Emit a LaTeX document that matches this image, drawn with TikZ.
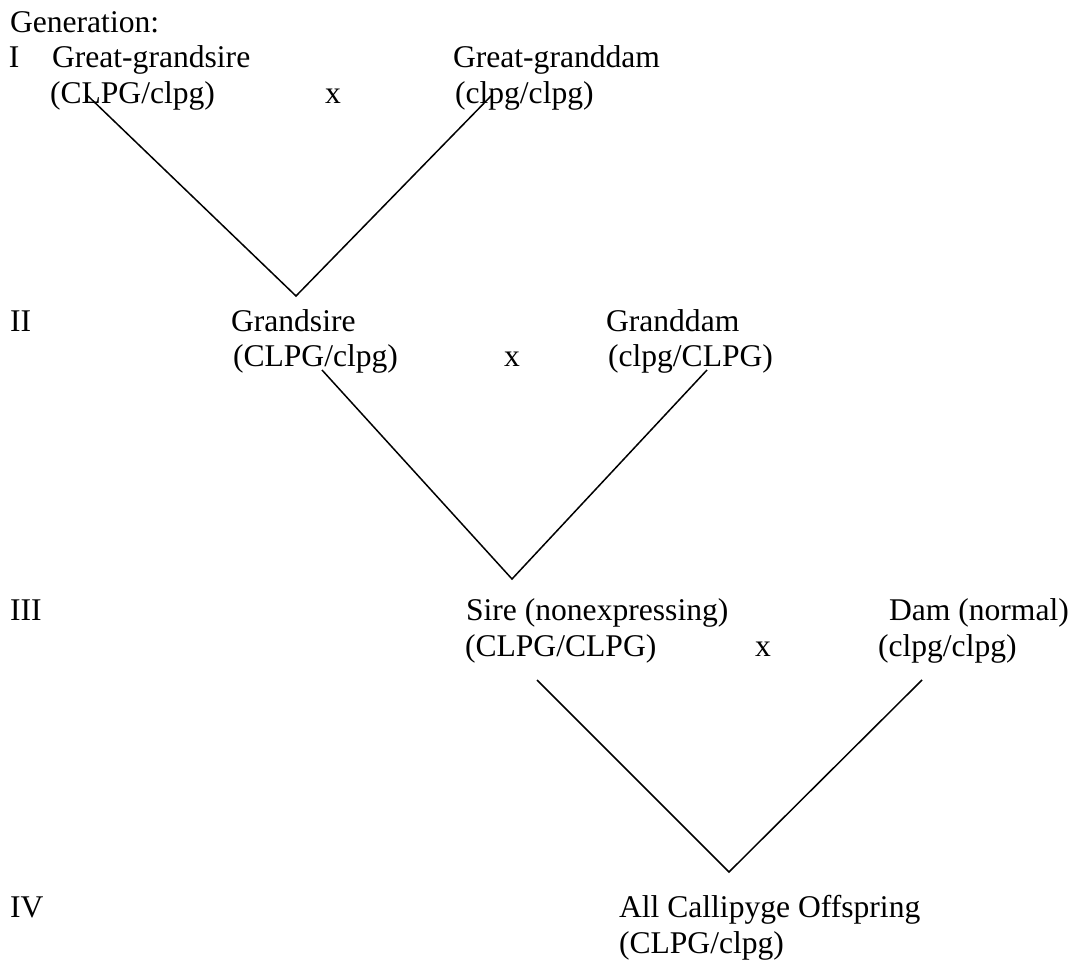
\documentclass[tikz,border=0pt]{standalone}
\usepackage{fontspec}
\setmainfont{Liberation Serif}
\begin{document}
\begin{tikzpicture}[x=1pt,y=-1pt,
  lbl/.style={anchor=base west,inner sep=0pt,outer sep=0pt,font=\fontsize{31.6}{36}\selectfont},
  link/.style={line width=1.5pt,black}]
\useasboundingbox (0,0) rectangle (1076,960);
\fill[white] (0,0) rectangle (1076,960);
% Row I
\node[lbl] (gen) at (10,33) {Generation:};
\node[lbl] (g1) at (9,68) {I};
\node[lbl] (ggs) at (52,68) {Great-grandsire};
\node[lbl] (ggsg) at (50,104) {(CLPG/clpg)};
\node[lbl] (x1) at (325,104) {x};
\node[lbl] (ggd) at (453,68) {Great-granddam};
\node[lbl] (ggdg) at (455,104) {(clpg/clpg)};
% Row II
\node[lbl] (g2) at (10,331) {II};
\node[lbl] (gs) at (231,331) {Grandsire};
\node[lbl] (gsg) at (233,366) {(CLPG/clpg)};
\node[lbl] (x2) at (504,366) {x};
\node[lbl] (gd) at (606,331) {Granddam};
\node[lbl] (gdg) at (608,366) {(clpg/CLPG)};
% Row III
\node[lbl] (g3) at (10,620) {III};
\node[lbl] (sire) at (466,620) {Sire (nonexpressing)};
\node[lbl] (sireg) at (465,656) {(CLPG/CLPG)};
\node[lbl] (x3) at (755,656) {x};
\node[lbl] (dam) at (889,620) {Dam (normal)};
\node[lbl] (damg) at (878,656) {(clpg/clpg)};
% Row IV
\node[lbl] (g4) at (10,917) {IV};
\node[lbl] (off) at (619,917) {All Callipyge Offspring};
\node[lbl] (offg) at (619,953) {(CLPG/clpg)};
% connector points
\coordinate (a1) at (88,96);
\coordinate (v1) at (296,296);
\coordinate (b1) at (491,96);
\coordinate (a2) at (322,370);
\coordinate (v2) at (512,579);
\coordinate (b2) at (707,370);
\coordinate (a3) at (537,680);
\coordinate (v3) at (729,872);
\coordinate (b3) at (922,680);
\draw[link] (a1) -- (v1) -- (b1);
\draw[link] (a2) -- (v2) -- (b2);
\draw[link] (a3) -- (v3) -- (b3);
\end{tikzpicture}
\end{document}
